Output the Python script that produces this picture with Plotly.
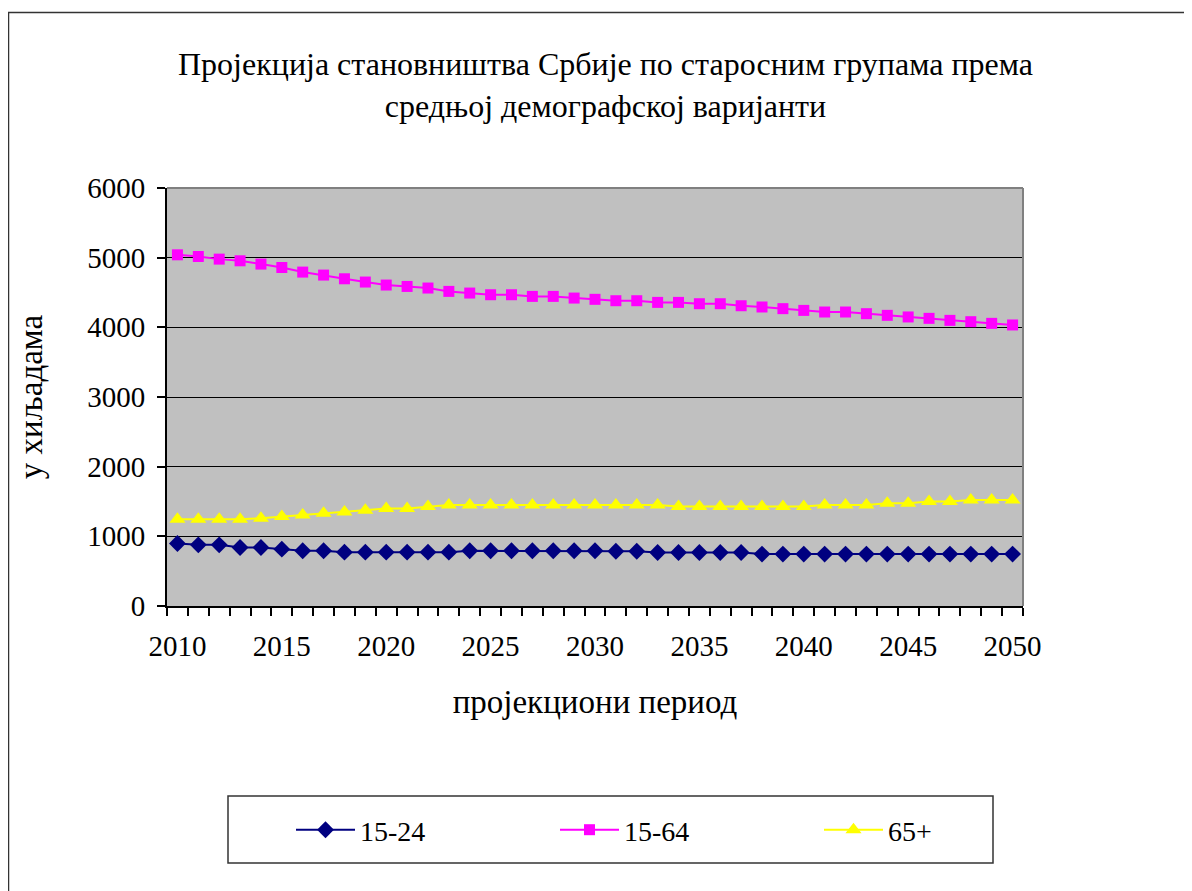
import plotly.graph_objects as go

years = list(range(2010, 2051))

s15_24 = [898, 878, 878, 840, 840, 816, 792, 792, 773, 773,
          773, 773, 773, 773, 792, 792, 792, 792, 792, 792,
          792, 785, 785, 769, 769, 769, 769, 769, 745, 745,
          745, 745, 745, 745, 745, 745, 745, 745, 745, 745, 745]

s15_64 = [5041, 5017, 4979, 4955, 4908, 4859, 4793, 4750, 4697, 4650,
          4607, 4587, 4564, 4516, 4492, 4468, 4468, 4444, 4444, 4420,
          4402, 4382, 4382, 4358, 4358, 4339, 4339, 4310, 4292, 4268,
          4243, 4220, 4220, 4196, 4172, 4149, 4129, 4100, 4081, 4057, 4034]

s65 = [1246, 1246, 1246, 1246, 1260, 1284, 1308, 1332, 1351, 1375,
       1399, 1399, 1427, 1451, 1451, 1451, 1451, 1451, 1451, 1451,
       1451, 1451, 1451, 1451, 1427, 1427, 1427, 1427, 1427, 1427,
       1427, 1451, 1451, 1451, 1475, 1475, 1499, 1499, 1522, 1522, 1522]

series_names = ["15-24", "15-64", "65+"]
title_lines = ["Пројекција становништва Србије по старосним групама према",
               "средњој демографској варијанти"]
y_title = "у хиљадама"
x_title = "пројекциони период"
x_tick_vals = list(range(2010, 2051, 5))
y_tick_vals = list(range(0, 6001, 1000))

FONT = "Liberation Serif"
FS_TICK = 29
FS_TITLE = 32
FS_AXIS = 33
FS_LEG = 28

fig = go.Figure()
fig.add_trace(go.Scatter(x=years, y=s15_24, name=series_names[0], mode="lines+markers",
                         line=dict(color="#000080", width=2),
                         marker=dict(symbol="diamond", size=13, color="#000080")))
fig.add_trace(go.Scatter(x=years, y=s15_64, name=series_names[1], mode="lines+markers",
                         line=dict(color="#FF00FF", width=2),
                         marker=dict(symbol="square", size=11, color="#FF00FF")))
fig.add_trace(go.Scatter(x=years, y=s65, name=series_names[2], mode="lines+markers",
                         line=dict(color="#FFFF00", width=2),
                         marker=dict(symbol="triangle-up", size=14, color="#FFFF00")))

OFF = 8  # page body margin
W, H = 1192, 891
L, T = 167 - OFF, 188 - OFF
pw, ph = 856, 418
R, B = W - L - pw, H - T - ph

def px(x):
    return (x - OFF - L) / pw

def py(y):
    return (T + ph - (y - OFF)) / ph

fig.update_layout(
    width=W, height=H,
    margin=dict(l=L, r=R, t=T, b=B, pad=0),
    paper_bgcolor="white",
    plot_bgcolor="#C0C0C0",
    font=dict(family=FONT, size=FS_TICK, color="black"),
    showlegend=True,
    legend=dict(orientation="h", xref="container", yref="container",
                x=(291 - OFF) / W, y=1 - (830 - OFF) / H, xanchor="left", yanchor="middle",
                bgcolor="rgba(0,0,0,0)", borderwidth=0,
                font=dict(family=FONT, size=FS_LEG, color="black"),
                itemwidth=59,
                entrywidth=190, entrywidthmode="pixels", itemclick=False),
    annotations=[
        dict(text=title_lines[0] + "<br>" + title_lines[1], x=px(605), y=py(85),
             xref="paper", yref="paper", showarrow=False, xanchor="center", yanchor="middle",
             font=dict(family=FONT, size=FS_TITLE, color="black"), align="center"),
    ],
    shapes=[
        dict(type="rect", xref="paper", yref="paper", x0=px(8.5), x1=px(1210), y0=py(12.5), y1=py(910),
             line=dict(color="#333333", width=1.5), fillcolor="rgba(0,0,0,0)", layer="below"),
        dict(type="rect", xref="paper", yref="paper", x0=px(228), x1=px(993), y0=py(796), y1=py(863),
             line=dict(color="#333333", width=1.5), fillcolor="rgba(0,0,0,0)", layer="below"),
        dict(type="line", xref="paper", yref="paper", x0=1, x1=1, y0=0, y1=1,
             line=dict(color="#808080", width=2)),
        dict(type="line", xref="paper", yref="paper", x0=0, x1=1, y0=1, y1=1,
             line=dict(color="#808080", width=2)),
    ],
)

fig.update_xaxes(range=[2009.5, 2050.5], tickmode="array", tickvals=x_tick_vals,
                 ticktext=[str(v) for v in x_tick_vals],
                 showgrid=False, zeroline=False, showline=True, linecolor="black", linewidth=2,
                 ticks="", ticklabelstandoff=13,
                 title=dict(text=x_title, font=dict(family=FONT, size=FS_AXIS), standoff=29),
                 minor=dict(tickmode="array", tickvals=[y - 0.5 for y in years] + [2050.5],
                            ticks="outside", ticklen=8, tickcolor="black", tickwidth=1.5,
                            showgrid=False))
fig.update_yaxes(range=[0, 6000], tickmode="array", tickvals=y_tick_vals,
                 showgrid=True, gridcolor="black", gridwidth=1, zeroline=False,
                 showline=True, linecolor="black", linewidth=2,
                 ticks="outside", ticklen=8, tickcolor="black", tickwidth=1.5,
                 ticklabelstandoff=6,
                 title=dict(text=y_title, font=dict(family=FONT, size=FS_AXIS), standoff=35))

fig.write_html("out.html")
